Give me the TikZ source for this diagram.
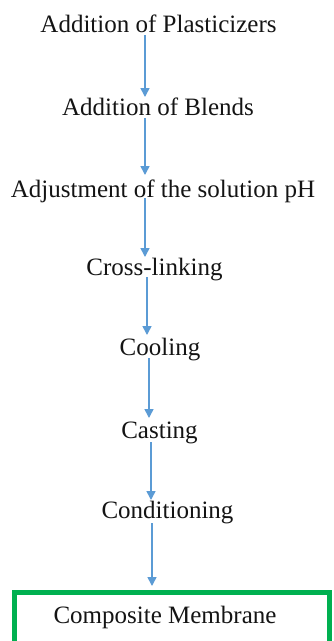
\documentclass[tikz,border=0pt]{standalone}
\usepackage{fontspec}
\setmainfont{Liberation Serif}
\usetikzlibrary{arrows.meta}
\definecolor{arrowblue}{RGB}{91,155,213}
\definecolor{boxgreen}{RGB}{0,176,80}
\definecolor{txt}{RGB}{20,20,20}
\begin{document}
\begin{tikzpicture}[x=1pt,y=-1pt,
  stepText/.style={anchor=base,inner sep=0pt,text=txt,font=\fontsize{25}{28}\selectfont},
  flowArrow/.style={draw=arrowblue,line width=1.6pt,-{Triangle[width=9pt,length=9pt]}},
  memBox/.style={draw=boxgreen,line width=5pt,minimum width=315pt,minimum height=60pt,inner sep=0pt}]
\useasboundingbox (0,0) rectangle (333,641);
\fill[white] (0,0) rectangle (333,641);
\node[stepText] (t1) at (158.5,32) {Addition of Plasticizers};
\node[stepText] (t2) at (158,115) {Addition of Blends};
\node[stepText] (t3) at (163,197) {Adjustment of the solution pH};
\node[stepText] (t4) at (154.5,275) {Cross-linking};
\node[stepText] (t5) at (160,355) {Cooling};
\node[stepText] (t6) at (159.5,438) {Casting};
\node[stepText] (t7) at (167.5,518) {Conditioning};
\node[memBox] (box) at (172,622) {};
\node[stepText] (t8) at (165,623) {Composite Membrane};
\coordinate (s1) at (145,35);  \coordinate (e1) at (145,97);
\coordinate (s2) at (145,118); \coordinate (e2) at (145,175);
\coordinate (s3) at (145,198); \coordinate (e3) at (145,257);
\coordinate (s4) at (147,277); \coordinate (e4) at (147,335);
\coordinate (s5) at (149,358); \coordinate (e5) at (149,418);
\coordinate (s6) at (151,442); \coordinate (e6) at (151,500);
\coordinate (s7) at (152,523); \coordinate (e7) at (152,586);
\foreach \i in {1,...,7} \draw[flowArrow] (s\i) -- (e\i);
\end{tikzpicture}
\end{document}
